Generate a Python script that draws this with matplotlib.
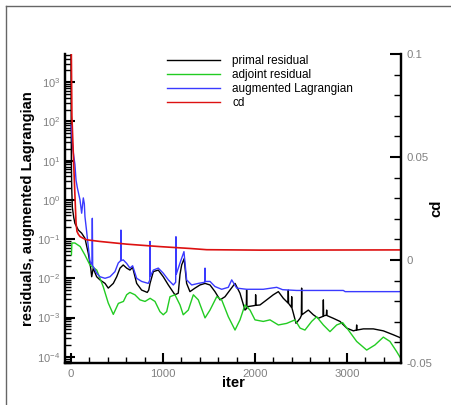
import matplotlib
matplotlib.use("Agg")
import matplotlib.pyplot as plt
import numpy as np
from matplotlib.lines import Line2D
from matplotlib.ticker import FixedLocator, LogLocator, MultipleLocator, NullFormatter

# values (residuals stored as log10)
primal_iter = [0, 4, 8, 15, 30, 43, 80, 116, 152, 188, 215, 225, 242, 260, 279, 315, 370, 405,
               460, 497, 533, 568, 605, 641, 670, 714, 768, 829, 845, 859, 895, 949, 1003, 1058,
               1130, 1166, 1185, 1203, 1230, 1257, 1293, 1348, 1402, 1457, 1511, 1565, 1620, 1674,
               1728, 1783, 1837, 1891, 1905, 1909, 1913, 1927, 1982, 2005, 2007, 2010, 2054, 2127,
               2199, 2254, 2308, 2359, 2362, 2365, 2396, 2399, 2402, 2417, 2446, 2490, 2504, 2507,
               2510, 2580, 2634, 2688, 2740, 2743, 2746, 2776, 2779, 2782, 2851, 2924, 2997, 3069,
               3102, 3105, 3108, 3178, 3286, 3395, 3503, 3594]
primal_log = [3.7, 1.0, 0.3, -0.2, -0.45, -0.6, -0.77, -0.85, -0.98, -1.36, -1.75, -1.96, -1.74,
              -1.85, -1.96, -2.04, -2.13, -2.25, -2.13, -1.96, -1.74, -1.66, -1.74, -1.79, -1.72,
              -2.13, -2.30, -2.36, -2.30, -2.13, -1.83, -1.79, -1.96, -2.17, -2.42, -2.38, -1.9,
              -1.66, -1.5, -2.13, -2.34, -2.25, -2.17, -2.13, -2.17, -2.34, -2.55, -2.47, -2.30,
              -2.13, -2.38, -2.81, -2.78, -2.30, -2.76, -2.72, -2.70, -2.69, -2.42, -2.69, -2.68,
              -2.55, -2.42, -2.34, -2.51, -2.63, -2.30, -2.64, -2.74, -2.47, -2.76, -2.89, -3.15,
              -3.02, -2.95, -2.25, -2.93, -2.81, -2.93, -3.02, -2.97, -2.55, -2.96, -2.94, -2.81,
              -2.95, -3.02, -3.10, -3.27, -3.34, -3.32, -3.19, -3.32, -3.29, -3.29, -3.34, -3.44,
              -3.53]

adjoint_iter = [5, 10, 43, 100, 150, 206, 280, 350, 405, 460, 515, 570, 605, 640, 695, 750, 805,
                860, 913, 967, 1003, 1040, 1076, 1130, 1185, 1220, 1275, 1330, 1384, 1457, 1511,
                1584, 1638, 1710, 1783, 1837, 1891, 1946, 2000, 2090, 2163, 2254, 2344, 2435, 2490,
                2543, 2616, 2670, 2743, 2815, 2888, 2953, 3015, 3105, 3214, 3304, 3395, 3467, 3540,
                3594]
adjoint_log = [-1.40, -1.10, -1.10, -1.19, -1.40, -1.66, -1.79, -2.21, -2.63, -2.92, -2.64, -2.59,
               -2.42, -2.36, -2.42, -2.55, -2.59, -2.51, -2.59, -2.85, -2.93, -2.85, -2.47, -2.42,
               -2.68, -2.93, -2.81, -2.42, -2.55, -3.01, -2.81, -2.47, -2.55, -2.98, -3.32, -3.06,
               -2.68, -2.81, -3.06, -3.10, -3.06, -3.19, -3.15, -3.06, -3.27, -3.32, -3.10, -2.98,
               -3.19, -3.36, -3.19, -3.13, -3.32, -3.61, -3.83, -3.70, -3.50, -3.61, -3.87, -4.08]

lagr_iter = [2, 20, 43, 55, 70, 98, 116, 134, 145, 152, 170, 188, 206, 228, 232, 236, 242, 279,
             315, 370, 424, 478, 514, 540, 543, 546, 568, 605, 641, 670, 714, 768, 840, 856, 859,
             862, 895, 949, 1003, 1058, 1112, 1138, 1141, 1144, 1185, 1228, 1257, 1312, 1384,
             1454, 1457, 1460, 1511, 1565, 1638, 1710, 1747, 1801, 1909, 2090, 2236, 2300, 2453,
             2960, 2980, 3594]
lagr_log = [1.9, 1.3, 0.9, 0.5, 0.3, 0.0, -0.34, 0.05, -0.1, -0.43, -0.8, -1.19, -1.57, -1.65,
            -0.47, -1.68, -1.70, -1.87, -1.96, -2.0, -1.96, -1.83, -1.61, -1.55, -0.77, -1.55,
            -1.53, -1.62, -1.74, -1.68, -2.0, -2.08, -2.13, -2.05, -1.06, -1.95, -1.79, -1.74,
            -1.87, -2.04, -2.17, -2.1, -0.94, -1.9, -1.61, -1.32, -2.04, -2.17, -2.13, -2.1,
            -1.74, -2.08, -2.08, -2.21, -2.28, -2.23, -2.04, -2.25, -2.28, -2.28, -2.23, -2.29,
            -2.31, -2.31, -2.34, -2.34]

cd_iter = [0, 4, 10, 30, 45, 55, 65, 80, 98, 134, 170, 315, 605, 967, 1293, 1475, 2054, 3594]
cd_val = [0.2, 0.1, 0.07, 0.046, 0.029, 0.018, 0.0139, 0.0125, 0.0114, 0.0105, 0.0098, 0.0090,
          0.0077, 0.0065, 0.0056, 0.0050, 0.0048, 0.0049]

labels = ["primal residual", "adjoint residual", "augmented Lagrangian", "cd"]
colors = ["black", "#22cc22", "#3a3aff", "#dd1111"]
y_ticks = [1e-4, 1e-3, 1e-2, 1e-1, 1e0, 1e1, 1e2, 1e3]
cd_ticks = [-0.05, 0, 0.05, 0.1]
x_ticks = [0, 1000, 2000, 3000]

plt.rcParams["font.family"] = ["Liberation Sans", "DejaVu Sans"]
plt.rcParams["mathtext.default"] = "regular"

fig = plt.figure(figsize=(4.51, 4.05), dpi=100)
ax = fig.add_axes([65 / 451, 1 - 363 / 405, 336 / 451, 309 / 405])
ax2 = ax.twinx()

ax.plot(primal_iter, 10 ** np.array(primal_log), color=colors[0], lw=1.0)
ax.plot(adjoint_iter, 10 ** np.array(adjoint_log), color=colors[1], lw=1.0)
ax.plot(lagr_iter, 10 ** np.array(lagr_log), color=colors[2], lw=1.0)
ax2.plot(cd_iter, cd_val, color=colors[3], lw=1.2)

ax.set_yscale("log")
ax.set_xlim(-65, 3587)
ax.set_ylim(10 ** -4.16, 10 ** 3.72)
ax2.set_ylim(-0.05, 0.1)

tick_grey = "#808080"
ax.yaxis.set_major_locator(FixedLocator(y_ticks))
ax.yaxis.set_minor_locator(LogLocator(base=10, subs=np.arange(2, 10), numticks=20))
ax.yaxis.set_minor_formatter(NullFormatter())
ax.set_yticklabels(["$10^{%d}$" % int(np.log10(t)) for t in y_ticks])
ax.set_xticks(x_ticks)
ax.xaxis.set_minor_locator(MultipleLocator(200))
ax2.set_yticks(cd_ticks)
ax2.set_yticklabels(["-0.05", "0", "0.05", "0.1"])
ax2.yaxis.set_minor_locator(MultipleLocator(0.01))

ax.tick_params(axis="y", which="both", direction="in", right=False, labelsize=8,
               labelcolor=tick_grey, pad=3.5)
ax.tick_params(axis="x", which="both", direction="in", top=False, labelsize=8.2,
               labelcolor=tick_grey, pad=4)
ax.tick_params(which="major", length=7, width=1.5)
ax.tick_params(which="minor", length=4, width=1.0)
ax2.tick_params(axis="y", which="both", direction="in", left=False, labelsize=8.2,
                labelcolor=tick_grey, pad=4)
ax2.tick_params(axis="y", which="major", length=8, width=1.5)
ax2.tick_params(axis="y", which="minor", length=5, width=1.0)

for a in (ax, ax2):
    a.spines["top"].set_visible(False)
    for s in ("left", "right", "bottom"):
        a.spines[s].set_linewidth(1.6)

ax.set_xlabel("iter", fontsize=10.6, fontweight="bold", labelpad=-2)
ax.set_ylabel("residuals, augmented Lagrangian", fontsize=10.6, fontweight="bold")
ax.yaxis.set_label_coords((35 - 65) / 336, 0.5)
ax2.set_ylabel("cd", fontsize=10.6, fontweight="bold", rotation=90)
ax2.yaxis.set_label_coords((429 - 65) / 336, 0.5)

handles = [Line2D([], [], color=c, lw=1.0) for c in colors]
leg = ax2.legend(handles, labels, loc="upper left", bbox_to_anchor=(159 / 451, 1 - 47 / 405),
                 bbox_transform=fig.transFigure, frameon=False, fontsize=8.5,
                 handlelength=4.5, handletextpad=1.0, labelspacing=0.16, borderpad=0.2)

# outer frame of the plot page
fig.add_artist(Line2D([6 / 451, 6 / 451], [0, 1 - 6 / 405], color="#666666", lw=1.0))
fig.add_artist(Line2D([6 / 451, 1], [1 - 6 / 405, 1 - 6 / 405], color="#666666", lw=1.0))

fig.savefig("out.png", dpi=100)
